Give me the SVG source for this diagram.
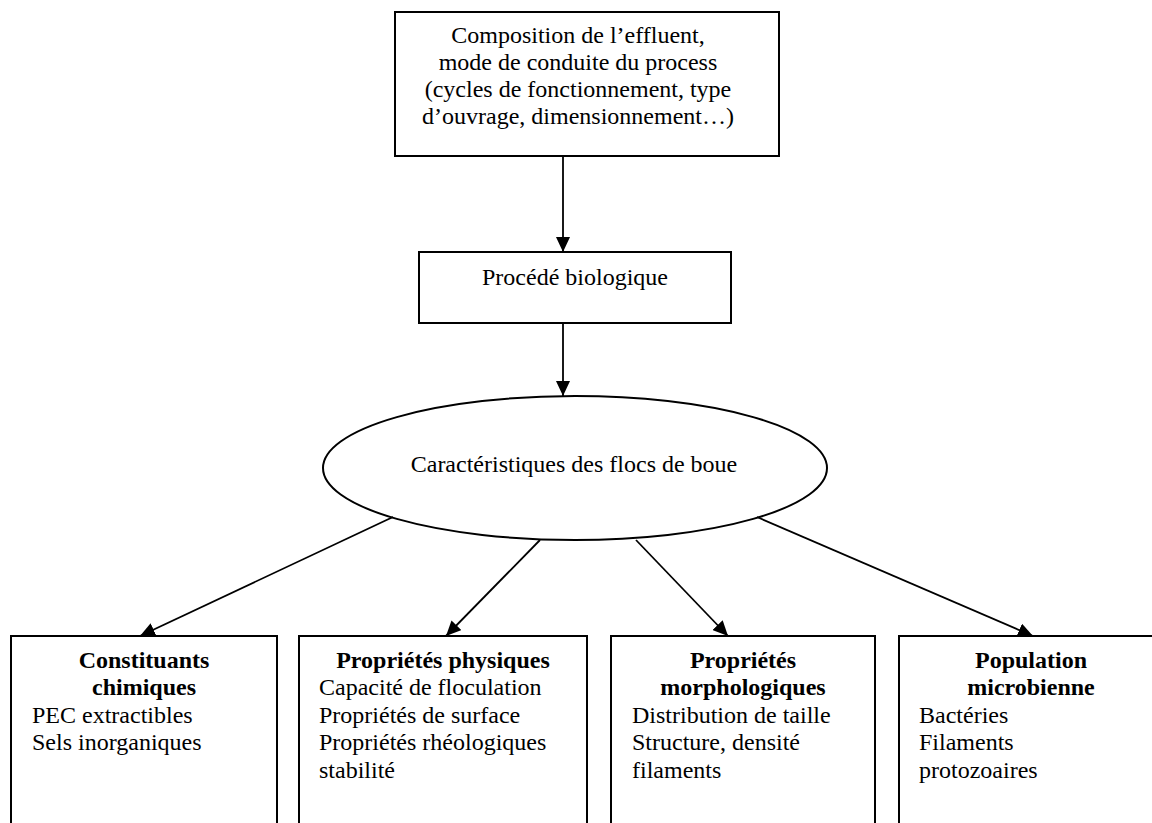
<svg xmlns="http://www.w3.org/2000/svg" width="1152" height="823" viewBox="0 0 1152 823">
  <style>
    .box { fill: #ffffff; stroke: #000000; stroke-width: 2; }
    .t { font-family: "Liberation Serif", "Times New Roman", serif; font-size: 24px; fill: #000000; }
    .b { font-weight: bold; }
    .c { text-anchor: middle; }
    .conn { stroke: #000000; stroke-width: 1.8; fill: none; marker-end: url(#arrow); }
  </style>
  <defs>
    <marker id="arrow" viewBox="0 0 15 14" refX="15" refY="7" markerWidth="15" markerHeight="14" markerUnits="userSpaceOnUse" orient="auto">
      <path d="M0,0 L15,7 L0,14 Z" fill="#000000"/>
    </marker>
  </defs>
  <rect x="0" y="0" width="1152" height="823" fill="#ffffff"/>

  <g id="node-composition">
    <rect class="box" x="395" y="12" width="384" height="144"/>
    <text class="t c" x="578" y="43">Composition de l’effluent,</text>
    <text class="t c" x="578" y="70">mode de conduite du process</text>
    <text class="t c" x="578" y="97">(cycles de fonctionnement, type</text>
    <text class="t c" x="578" y="124">d’ouvrage, dimensionnement…)</text>
  </g>

  <g id="node-procede">
    <rect class="box" x="419" y="252" width="312" height="71"/>
    <text class="t c" x="575" y="285">Procédé biologique</text>
  </g>

  <g id="node-caracteristiques">
    <ellipse class="box" cx="575" cy="468" rx="252" ry="72"/>
    <text class="t c" x="574" y="472">Caractéristiques des flocs de boue</text>
  </g>

  <g id="node-chimiques">
    <rect class="box" x="11" y="636" width="266" height="200"/>
    <text class="t b c" x="144" y="668">Constituants</text>
    <text class="t b c" x="144" y="695">chimiques</text>
    <text class="t" x="32" y="723">PEC extractibles</text>
    <text class="t" x="32" y="750">Sels inorganiques</text>
  </g>

  <g id="node-physiques">
    <rect class="box" x="299" y="636" width="288" height="200"/>
    <text class="t b c" x="443" y="668">Propriétés physiques</text>
    <text class="t" x="319" y="695">Capacité de floculation</text>
    <text class="t" x="319" y="723">Propriétés de surface</text>
    <text class="t" x="319" y="750">Propriétés rhéologiques</text>
    <text class="t" x="319" y="778">stabilité</text>
  </g>

  <g id="node-morphologiques">
    <rect class="box" x="611" y="636" width="264" height="200"/>
    <text class="t b c" x="743" y="668">Propriétés</text>
    <text class="t b c" x="743" y="695">morphologiques</text>
    <text class="t" x="632" y="723">Distribution de taille</text>
    <text class="t" x="632" y="750">Structure, densité</text>
    <text class="t" x="632" y="778">filaments</text>
  </g>

  <g id="node-population">
    <rect class="box" x="899" y="636" width="264" height="200"/>
    <text class="t b c" x="1031" y="668">Population</text>
    <text class="t b c" x="1031" y="695">microbienne</text>
    <text class="t" x="919" y="723">Bactéries</text>
    <text class="t" x="919" y="750">Filaments</text>
    <text class="t" x="919" y="778">protozoaires</text>
  </g>

  <g id="connectors">
    <line class="conn" x1="563" y1="156" x2="563" y2="252"/>
    <line class="conn" x1="563" y1="323" x2="563" y2="396"/>
    <line class="conn" x1="393" y1="517" x2="140" y2="636"/>
    <line class="conn" x1="540" y1="540" x2="446" y2="636"/>
    <line class="conn" x1="636" y1="540" x2="728" y2="636"/>
    <line class="conn" x1="757" y1="517" x2="1033" y2="636"/>
  </g>
</svg>
